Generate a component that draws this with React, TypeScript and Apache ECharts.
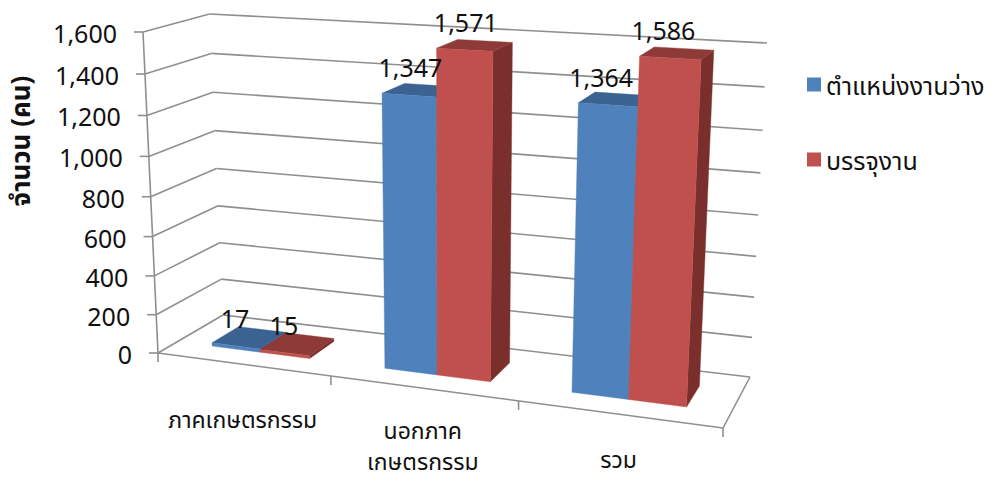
import React, { useEffect, useRef } from "react";
import * as echarts from "echarts";

const categories = ["ภาคเกษตรกรรม", "นอกภาค\nเกษตรกรรม", "รวม"];
const vacancyName = "ตำแหน่งงานว่าง";
const placedName = "บรรจุงาน";
const vacancyValues = [17, 1347, 1364];
const placedValues = [15, 1571, 1586];
const yTicks = [0, 200, 400, 600, 800, 1000, 1200, 1400, 1600];
const axisName = "จำนวน (คน)";

const W = 997;
const H = 479;
const FONT = '"Noto Sans", "Noto Sans Thai", Tahoma, sans-serif';
const GRID = "#8f8f8f";
const BLUE = { front: "#4f81bd", top: "#3a6391", side: "#335a85" };
const RED = { front: "#c0504d", top: "#8e3a38", side: "#7b2f2d" };
const LABEL_SHIFT = [1, 3, -5];

type Pt = [number, number];
function homography(p0: Pt, p1: Pt, p2: Pt, p3: Pt) {
  const dx1 = p1[0] - p2[0], dx2 = p3[0] - p2[0], sx = p0[0] - p1[0] + p2[0] - p3[0];
  const dy1 = p1[1] - p2[1], dy2 = p3[1] - p2[1], sy = p0[1] - p1[1] + p2[1] - p3[1];
  const den = dx1 * dy2 - dx2 * dy1;
  const g = (sx * dy2 - dx2 * sy) / den;
  const h = (dx1 * sy - sx * dy1) / den;
  const a = p1[0] - p0[0] + g * p1[0], b = p3[0] - p0[0] + h * p3[0], c = p0[0];
  const d = p1[1] - p0[1] + g * p1[1], e = p3[1] - p0[1] + h * p3[1], f = p0[1];
  return (u: number, v: number): Pt => {
    const w = g * u + h * v + 1;
    return [(a * u + b * v + c) / w, (d * u + e * v + f) / w];
  };
}
// walls of the 3D box: (left-bottom, right-bottom, right-top, left-top)
const frontPlane = homography([158, 353], [723, 428], [741, 66], [143, 32]);
const backPlane = homography([223, 315], [750, 377], [767, 43], [209.5, 14]);
const project = (u: number, v: number, d: number): Pt => {
  const f = frontPlane(u, v), b = backPlane(u, v);
  return [f[0] + (b[0] - f[0]) * d, f[1] + (b[1] - f[1]) * d];
};
const DEPTH_NEAR = 0.3;
const DEPTH_FAR = 0.72;
const BAR_START = 0.21;
const BAR_WIDTH = 0.287;

const line = (a: Pt, b: Pt, width = 1.6) => ({
  type: "line",
  shape: { x1: a[0], y1: a[1], x2: b[0], y2: b[1] },
  style: { stroke: GRID, lineWidth: width },
  silent: true,
});
const poly = (points: Pt[], fill: string) => ({
  type: "polygon",
  shape: { points },
  style: { fill, stroke: fill, lineWidth: 0.4 },
});
const text = (s: string, x: number, y: number, fontSize: number, align: string) => ({
  type: "text",
  style: { text: s, x, y, fill: "#111", fontSize, fontFamily: FONT, align, verticalAlign: "middle" },
  z2: 10,
});

const toUV = (api: any, i: number, val: number) => {
  const c = api.coord([i, val]);
  return [c[0] / W, 1 - c[1] / H];
};

function barSpan(api: any, offset: number, i: number, val: number) {
  const [uc, v] = toUV(api, i, val);
  const band = api.size([1, 0])[0] / W;
  const u0 = uc - band / 2 + band * (BAR_START + offset * BAR_WIDTH);
  return { u0, u1: u0 + band * BAR_WIDTH, v };
}

function barRenderer(offset: number, col: typeof BLUE) {
  return (_: any, api: any) => {
    const { u0, u1, v } = barSpan(api, offset, api.value(0), api.value(1));
    const n = DEPTH_NEAR, fr = DEPTH_FAR;
    const ftl = project(u0, v, n), ftr = project(u1, v, n), fbl = project(u0, 0, n), fbr = project(u1, 0, n);
    const btl = project(u0, v, fr), btr = project(u1, v, fr), bbr = project(u1, 0, fr);
    return {
      type: "group",
      children: [
        poly([fbr, ftr, btr, bbr], col.side),
        poly([ftl, ftr, btr, btl], col.top),
        poly([fbl, fbr, ftr, ftl], col.front),
      ],
    };
  };
}

function labelRenderer(offset: number) {
  return (_: any, api: any) => {
    const i = api.value(0);
    const val = api.value(1);
    const { u0, u1, v } = barSpan(api, offset, i, val);
    const a = project(u0, v, DEPTH_NEAR), b = project(u1, v, DEPTH_NEAR);
    return text(val.toLocaleString("en-US"), (a[0] + b[0]) / 2 - 2 + LABEL_SHIFT[i], (a[1] + b[1]) / 2 - 28, 25, "center");
  };
}

function wallRenderer(_: any, api: any) {
  const val = api.value(1);
  const [, v] = toUV(api, 0, val);
  const f = frontPlane(0, v);
  const b = backPlane(0, v);
  const br = backPlane(1, v);
  return {
    type: "group",
    children: [
      line([f[0] - 9, f[1]], f),
      line(f, b),
      line(b, br),
      text(val.toLocaleString("en-US"), f[0] - 26, f[1] + 1, 25, "right"),
    ],
  };
}

function floorRenderer(_: any, api: any) {
  const i = api.value(0);
  const [uc] = toUV(api, i, 0);
  const band = api.size([1, 0])[0] / W;
  const u1 = uc + band / 2;
  const a = frontPlane(uc - band / 2, 0);
  const b = frontPlane(u1, 0);
  const mid = frontPlane(uc, 0);
  const children: any[] = [line(b, [b[0], b[1] + 9])];
  if (i === 0) {
    children.push(line(frontPlane(0, 0), frontPlane(1, 0)));
    children.push(line(frontPlane(0, 0), frontPlane(0, 1)));
    children.push(line(frontPlane(1, 0), backPlane(1, 0)));
    children.push(line(a, [a[0], a[1] + 9]));
  }
  const rows = categories[i].split("\n");
  const lift = rows.length > 1 ? 8 : 0;
  rows.forEach((r, k) => {
    children.push(text(r, mid[0], mid[1] + 55 - 5 * i - lift + k * 31, 23, "center"));
  });
  return { type: "group", children };
}

export default function App() {
  const ref = useRef<HTMLDivElement>(null);
  useEffect(() => {
    const chart = echarts.init(ref.current!, undefined, { renderer: "svg" });
    chart.setOption({
      animation: false,
      backgroundColor: "#fff",
      grid: { left: 0, top: 0, width: W, height: H },
      xAxis: { type: "category", data: categories, show: false },
      yAxis: { type: "value", min: 0, max: 1600, interval: 200, show: false },
      legend: {
        orient: "vertical",
        left: 807,
        top: 72,
        padding: 0,
        itemWidth: 14,
        itemHeight: 14,
        itemGap: 50,
        itemTextGap: 6,
        icon: "rect",
        data: [
          { name: vacancyName, itemStyle: { color: BLUE.front } },
          { name: placedName, itemStyle: { color: RED.front } },
        ],
        textStyle: { fontFamily: FONT, fontSize: 25, color: "#111", lineHeight: 20 },
      },
      graphic: [
        {
          type: "text",
          x: 20,
          y: 141,
          rotation: Math.PI / 2,
          style: {
            text: axisName,
            fontFamily: FONT,
            fontSize: 26,
            fontWeight: "bold",
            fill: "#111",
            align: "center",
            verticalAlign: "middle",
          },
        },
      ],
      series: [
        { type: "custom", name: "walls", clip: false, silent: true, z: 1, renderItem: wallRenderer, data: yTicks.map((t) => [0, t]) },
        { type: "custom", name: "floor", clip: false, silent: true, z: 1, renderItem: floorRenderer, data: categories.map((_, i) => [i, 0]) },
        { type: "custom", name: vacancyName, clip: false, silent: true, z: 2, itemStyle: { color: BLUE.front }, renderItem: barRenderer(0, BLUE), data: vacancyValues.map((v, i) => [i, v]) },
        { type: "custom", name: placedName, clip: false, silent: true, z: 3, itemStyle: { color: RED.front }, renderItem: barRenderer(1, RED), data: placedValues.map((v, i) => [i, v]) },
        { type: "custom", name: "vacancyLabels", clip: false, silent: true, z: 4, renderItem: labelRenderer(0), data: vacancyValues.map((v, i) => [i, v]) },
        { type: "custom", name: "placedLabels", clip: false, silent: true, z: 4, renderItem: labelRenderer(1), data: placedValues.map((v, i) => [i, v]) },
      ],
    });
    return () => chart.dispose();
  }, []);
  return <div ref={ref} style={{ position: "absolute", left: 0, top: 0, width: W, height: H }} />;
}
